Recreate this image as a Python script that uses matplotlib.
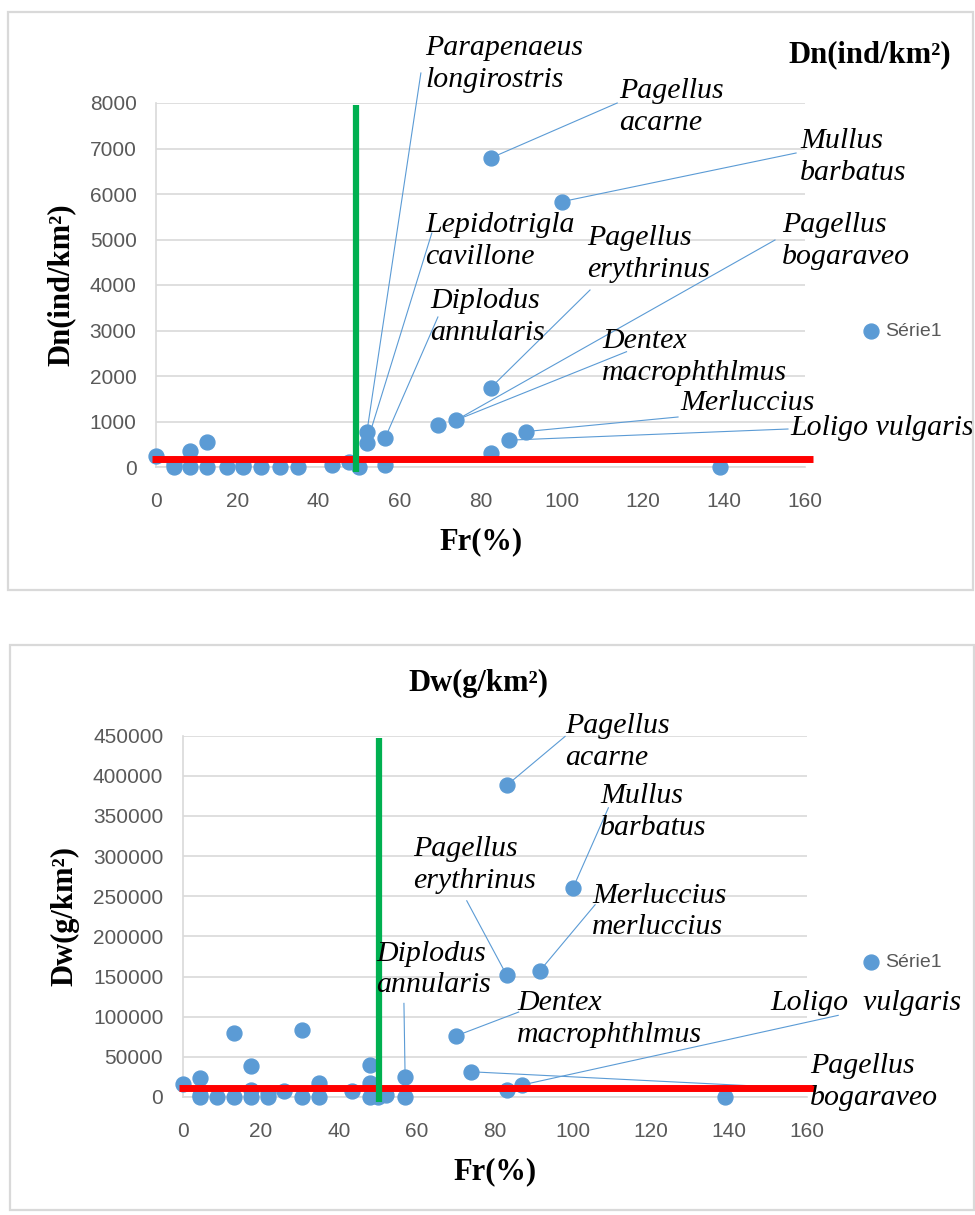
import matplotlib
matplotlib.use('Agg')
import matplotlib.pyplot as plt
from matplotlib.patches import Rectangle

# --- top chart: Fr(%) vs Dn(ind/km2)
dn_fr = [0, 4.5, 4.5, 8.5, 8.5, 12.5, 12.5, 17.5, 21.5, 21.5, 26, 30.5, 35,
         43.5, 47.5, 50, 52, 52, 56.5, 56.5, 69.5, 74, 82.5, 82.5, 82.5, 87,
         91.3, 100, 139]
dn_val = [250, 0, 60, 0, 350, 0, 560, 0, 0, 40, 0, 10, 10,
          50, 100, 0, 775, 530, 640, 40, 920, 1030, 1740, 6790, 300, 590,
          780, 5830, 0]
dn_names = ['Parapenaeus\nlongirostris', 'Pagellus\nacarne', 'Mullus\nbarbatus',
            'Lepidotrigla\ncavillone', 'Pagellus\nerythrinus', 'Pagellus\nbogaraveo',
            'Diplodus\nannularis', 'Dentex\nmacrophthlmus', 'Merluccius',
            'Loligo vulgaris']
dn_name_idx = [16, 23, 27, 17, 22, 21, 18, 21, 26, 25]
dn_cut_fr = 49.3
dn_cut_val = 175

# --- bottom chart: Fr(%) vs Dw(g/km2)
dw_fr = [0, 4.4, 4.4, 4.4, 8.7, 13.2, 13.2, 17.5, 17.5, 17.5, 21.8, 21.8, 26,
         30.5, 30.5, 35, 35, 43.5, 48, 48, 48, 50, 52, 57, 57, 70, 74, 83, 83,
         83, 87, 91.5, 100, 139]
dw_val = [16000, 24000, 0, 2000, 0, 80000, 0, 38500, 8700, 0, 0, 5000, 7400,
          83000, 0, 17400, 0, 7400, 40000, 17400, 0, 0, 3000, 25000, 0, 76000,
          31400, 388000, 152000, 8700, 15000, 157000, 260000, 0]
dw_names = ['Pagellus\nacarne', 'Mullus\nbarbatus', 'Pagellus\nerythrinus',
            'Merluccius\nmerluccius', 'Diplodus\nannularis', 'Dentex\nmacrophthlmus',
            'Loligo  vulgaris', 'Pagellus\nbogaraveo']
dw_name_idx = [27, 32, 28, 31, 23, 25, 30, 26]
dw_cut_fr = 50.2
dw_cut_val = 10800

# label layout: text x, text y (top-left), leader end x, leader end y
dn_layout = [(66.3, 9495, 65.3, 8659), (114.2, 8549, 113.7, 8000),
             (158.8, 7451, 157.8, 6901), (66.3, 5604, 68.0, 5143),
             (106.3, 5319, 107.0, 3890), (154.3, 5604, 152.6, 4989),
             (67.6, 3934, 69.5, 3297), (110.0, 3055, 116.0, 2534),
             (129.2, 1692, 128.7, 1099), (156.3, 1143, 155.8, 835)]
dw_layout = [(98.0, 477700, 98.0, 449100), (107.0, 390800, 109.1, 360200),
             (59.0, 325100, 72.8, 244400), (105.0, 266800, 105.7, 239500),
             (49.6, 194800, 56.7, 116600), (85.7, 132800, 86.1, 105800),
             (150.6, 132800, 168.0, 101700), (160.8, 54600, 157.0, 11200)]

blue = '#5b9bd5'
grid = '#d9d9d9'
serif = 'Liberation Serif'

fig = plt.figure(figsize=(9.75, 12.15), dpi=100)

# chart frames
fig.patches.append(Rectangle((8 / 975, 1 - 590 / 1215), 965 / 975, 578 / 1215,
                             transform=fig.transFigure, fill=False, ec=grid, lw=1.6))
fig.patches.append(Rectangle((10 / 975, 1 - 1210 / 1215), 964 / 975, 565 / 1215,
                             transform=fig.transFigure, fill=False, ec=grid, lw=1.6))


def panel(ax, fr, val, names, idx, layout, cut_fr, cut_val, ymax, ystep, ylabel):
    ax.set_xlim(0, 160)
    ax.set_ylim(0, ymax)
    ax.set_xticks(range(0, 161, 20))
    ax.set_yticks(range(0, ymax + 1, ystep))
    ax.yaxis.grid(True, color=grid, lw=1.2)
    ax.set_axisbelow(True)
    for s in ['top', 'right']:
        ax.spines[s].set_visible(False)
    for s in ['left', 'bottom']:
        ax.spines[s].set_color(grid)
        ax.spines[s].set_linewidth(1.2)
    ax.tick_params(length=0, labelsize=15, labelcolor='#595959', pad=14)
    ax.tick_params(axis='x', pad=18)
    for lab in ax.get_xticklabels() + ax.get_yticklabels():
        lab.set_family('Liberation Sans')

    for (tx, ty, lx, ly), name, i in zip(layout, names, idx):
        ax.plot([fr[i], lx], [val[i], ly], color=blue, lw=0.8, clip_on=False, zorder=2)
        ax.text(tx, ty, name, family=serif, style='italic', fontsize=21.5,
                ha='left', va='top', linespacing=1.28, clip_on=False, zorder=5)

    ax.scatter(fr, val, s=115, color=blue, clip_on=False, zorder=3, label='Série1')
    ax.plot([-1, 162], [cut_val, cut_val], color='#ff0000', lw=5,
            clip_on=False, zorder=4, solid_capstyle='butt')
    ax.plot([cut_fr, cut_fr], [-ymax * 0.0125, ymax * 0.995], color='#00b050', lw=4.5,
            clip_on=False, zorder=4, solid_capstyle='butt')

    ax.set_xlabel('Fr(%)', family=serif, fontweight='bold', fontsize=22, labelpad=12)
    ax.set_ylabel(ylabel, family=serif, fontweight='bold', fontsize=22, labelpad=10)
    leg = ax.legend(loc='center left', bbox_to_anchor=(1.085, 0.0), frameon=False,
                    handletextpad=0.2, borderaxespad=0, borderpad=0, handlelength=1.1,
                    prop={'family': 'Liberation Sans', 'size': 14})
    for t in leg.get_texts():
        t.set_color('#595959')
    return leg


ax1 = fig.add_axes([156 / 975, 1 - 467 / 1215, 649 / 975, 364 / 1215])
leg1 = panel(ax1, dn_fr, dn_val, dn_names, dn_name_idx, dn_layout,
             dn_cut_fr, dn_cut_val, 8000, 1000, 'Dn(ind/km²)')
leg1.set_bbox_to_anchor((1.085, 0.374))
fig.text(870 / 975, 1 - 55 / 1215, 'Dn(ind/km²)', family=serif, fontweight='bold',
         fontsize=22, ha='center', va='center')

ax2 = fig.add_axes([182.7 / 975, 1 - 1097 / 1215, 624.3 / 975, 361.3 / 1215])
leg2 = panel(ax2, dw_fr, dw_val, dw_names, dw_name_idx, dw_layout,
             dw_cut_fr, dw_cut_val, 450000, 50000, 'Dw(g/km²)')
leg2.set_bbox_to_anchor((1.085, 0.374))
fig.text(478 / 975, 1 - 683 / 1215, 'Dw(g/km²)', family=serif, fontweight='bold',
         fontsize=22, ha='center', va='center')

fig.savefig('out.png', dpi=100)
